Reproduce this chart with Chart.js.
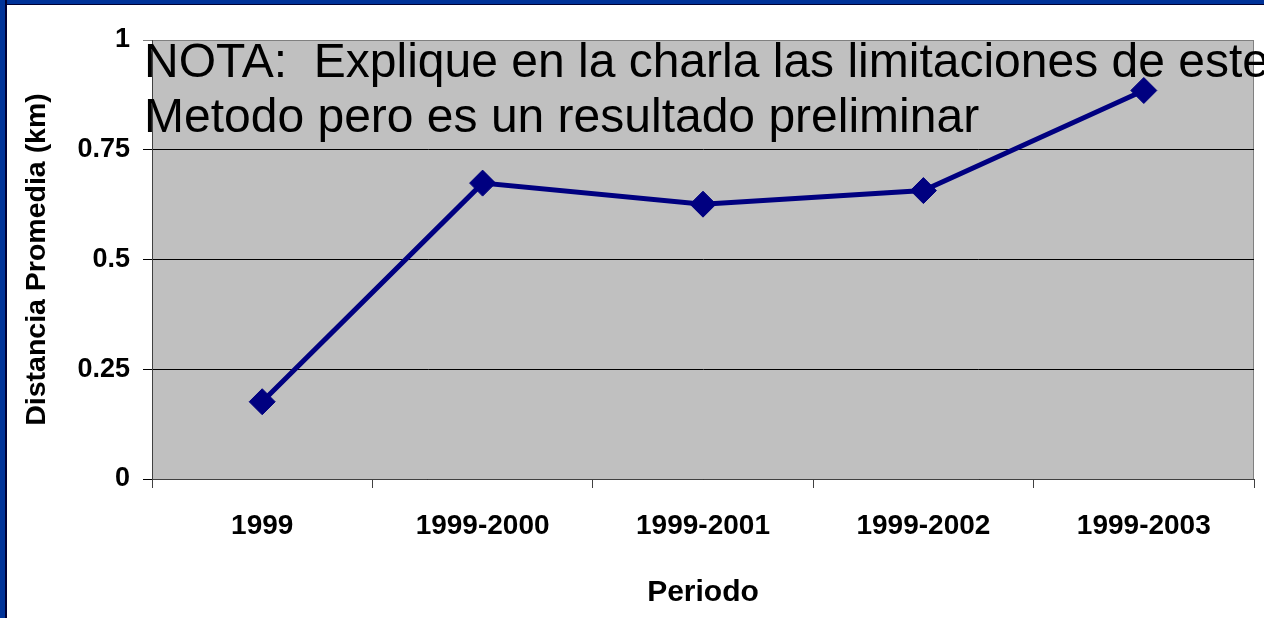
<!DOCTYPE html>
<html>
<head>
<meta charset="utf-8">
<script src="https://cdn.jsdelivr.net/npm/chart.js@4/dist/chart.umd.min.js"></script>
<style>
  body { margin: 0; background: #fff; overflow: hidden; }
  #wrap { position: relative; width: 1264px; height: 618px; }
  #frameTop { position: absolute; left: 0; top: 0; width: 1264px; height: 4px; background: #003399; border-bottom: 1px solid #000033; }
  #frameLeft { position: absolute; left: 0; top: 0; width: 5px; height: 618px; background: #003399; border-right: 2px solid #000033; }
</style>
</head>
<body>
<div id="wrap">
  <canvas id="chart" width="1264" height="618"></canvas>
  <div id="frameTop"></div>
  <div id="frameLeft"></div>
</div>
<script>
// data
const periodos = ["1999", "1999-2000", "1999-2001", "1999-2002", "1999-2003"]
const distancia = [0.176, 0.674, 0.626, 0.657, 0.885]
const yTicks = [0, 0.25, 0.5, 0.75, 1]
const nota = ["NOTA:  Explique en la charla las limitaciones de este", "Metodo pero es un resultado preliminar"]

const FONT = "'Liberation Sans', Arial, sans-serif"

// gray plot background with its thin gray frame
const plotBg = {
    id: "plotBg",
    beforeDraw(chart) {
        const a = chart.chartArea
        const ctx = chart.ctx
        ctx.save()
        ctx.fillStyle = "#C0C0C0"
        ctx.fillRect(a.left, a.top, a.right - a.left, a.bottom - a.top)
        ctx.strokeStyle = "#808080"
        ctx.lineWidth = 1
        ctx.strokeRect(a.left + 0.5, a.top + 0.5, a.right - a.left - 1, a.bottom - a.top)
        ctx.restore()
    }
}

// the big note written over the plot
const notaText = {
    id: "notaText",
    afterDraw(chart) {
        const ctx = chart.ctx
        ctx.save()
        ctx.fillStyle = "#000"
        ctx.font = "48px " + FONT
        ctx.textAlign = "left"
        ctx.textBaseline = "alphabetic"
        nota.forEach((t, i) => ctx.fillText(t, 144, 77 + i * 55))
        ctx.restore()
    }
}

new Chart(document.getElementById("chart").getContext("2d"), {
    type: "line",
    data: {
        labels: periodos,
        datasets: [{
            label: "Distancia",
            data: distancia,
            borderColor: "#000080",
            borderWidth: 5,
            tension: 0,
            pointStyle: "rectRot",
            pointRadius: 13,
            pointHoverRadius: 13,
            pointBackgroundColor: "#000080",
            pointBorderColor: "#000080",
            pointBorderWidth: 1
        }]
    },
    options: {
        responsive: false,
        animation: false,
        devicePixelRatio: 1,
        layout: { autoPadding: false, padding: { top: 40, right: 10, left: 0, bottom: 0 } },
        plugins: { legend: { display: false }, tooltip: { enabled: false } },
        scales: {
            x: {
                offset: true,
                grid: { offset: true, drawOnChartArea: false, drawTicks: true, tickLength: 9, color: "#404040" },
                border: { color: "#404040", width: 1 },
                ticks: { color: "#000", padding: 21, font: { family: FONT, size: 28, weight: "bold" } },
                title: {
                    display: true, text: "Periodo", color: "#000",
                    font: { family: FONT, size: 30, weight: "bold", lineHeight: 1 },
                    padding: { top: 0, bottom: 10 }
                },
                afterFit: s => { s.height = 139; s.paddingLeft = 0; s.paddingRight = 0 }
            },
            y: {
                min: 0,
                max: 1,
                afterBuildTicks: s => { s.ticks = yTicks.map(v => ({ value: v })) },
                grid: {
                    tickLength: 9,
                    color: c => (c.tick && c.tick.value === 1) ? "#808080" : "#000000"
                },
                border: { color: "#404040", width: 1 },
                ticks: {
                    color: "#000", padding: 13,
                    font: { family: FONT, size: 27, weight: "bold" },
                    callback: v => String(v)
                },
                title: {
                    display: true, text: "Distancia Promedia (km)", color: "#000",
                    font: { family: FONT, size: 28.5, weight: "bold", lineHeight: 1 },
                    padding: { top: 23, bottom: 0 }
                },
                afterFit: s => { s.width = 152 }
            }
        }
    },
    plugins: [plotBg, notaText]
})
</script>
</body>
</html>
